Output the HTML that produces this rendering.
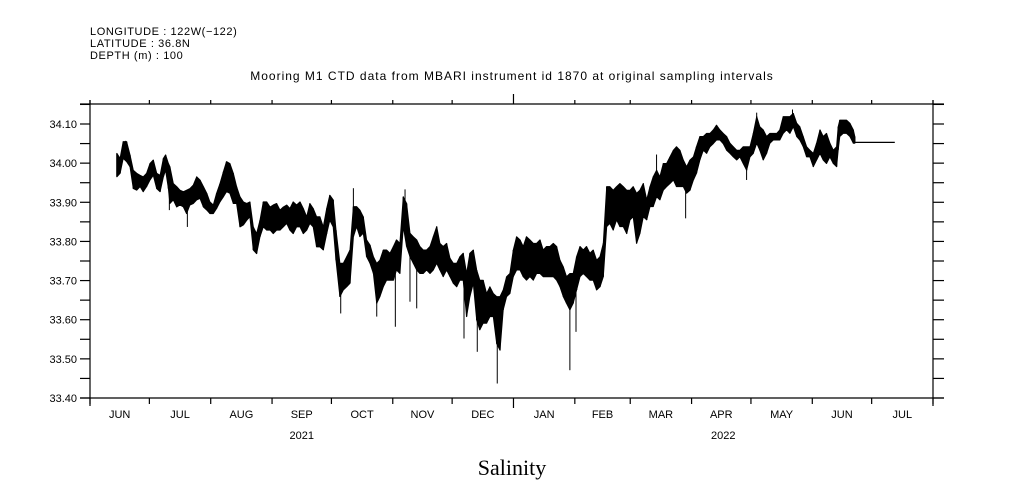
<!DOCTYPE html>
<html><head><meta charset="utf-8"><style>
body{margin:0;background:#fff;width:1009px;height:504px;overflow:hidden}
svg{display:block}
text{font-family:"Liberation Sans",sans-serif;font-size:11px;fill:#000}
</style></head><body>
<svg id="chart" width="1009" height="504" viewBox="0 0 1009 504" xmlns="http://www.w3.org/2000/svg">
<g style="letter-spacing:0.6px">
<text x="90" y="35">LONGITUDE : 122W(−122)</text>
<text x="90" y="47">LATITUDE : 36.8N</text>
<text x="90" y="59">DEPTH (m) : 100</text>
</g>
<text x="512" y="80" text-anchor="middle" style="font-size:12px;letter-spacing:1px">Mooring M1 CTD data from MBARI instrument id 1870 at original sampling intervals</text>
<text x="512" y="475" text-anchor="middle" style="font-family:'Liberation Serif',serif;font-size:22px">Salinity</text>
<g id="axes"></g>
<g id="marks"></g>
</svg>
<script>
const days=[13.6,15.2,16.8,18.5,20.2,21.9,23.6,25.3,26.9,28.6,30.3,32.0,33.7,35.4,37.1,38.2,39.6,40.4,42.1,43.8,45.5,47.2,48.8,50.5,52.2,53.9,55.6,57.3,59.0,60.6,62.3,64.0,65.7,67.4,69.0,70.7,72.4,74.1,75.8,77.5,79.2,80.8,82.5,84.2,85.9,87.6,89.3,91.0,92.6,94.3,96.0,97.7,99.4,101.0,102.7,104.4,106.1,107.8,109.5,111.1,112.8,114.5,116.2,117.9,119.6,121.2,122.9,
124.3,126.3,128.0,129.7,131.4,133.1,134.7,136.4,138.1,139.8,141.5,143.2,144.9,146.5,148.2,149.9,151.6,153.3,154.9,156.6,158.3,160.0,161.7,163.4,165.1,166.7,168.4,170.1,171.8,173.5,175.2,176.8,178.5,180.2,181.9,183.6,185.3,186.9,188.6,190.3,192.0,193.7,195.4,197.0,198.7,200.4,202.1,203.8,205.5,207.2,208.8,210.5,212.2,213.9,215.6,217.3,218.9,220.6,222.3,224.0,225.7,227.4,229.0,230.7,232.4,234.1,235.8,237.5,239.2,240.8,242.5,244.2,245.9,247.6,249.3,250.9,252.6,254.3,256.0,257.7,259.4,
261.1,262.7,264.4,266.1,267.8,269.5,271.2,272.9,274.5,276.2,277.9,279.6,281.3,283.0,284.6,286.3,288.0,289.7,291.4,293.1,294.8,296.4,298.1,299.8,301.5,303.2,304.9,306.5,308.2,309.9,311.6,313.3,315.0,316.6,318.3,320.0,321.7,323.4,325.1,326.8,328.4,330.1,331.8,333.5,335.2,336.9,338.5,340.2,341.9,343.6,345.3,347.0,348.6,350.3,352.0,353.7,355.4,357.1,358.7,360.4,362.1,363.8,365.5,367.2,368.9,370.5,372.2,373.9,375.6,377.3,378.1,378.9,380.6,382.3,384.0,385.7,386.5];
const hiVals=[34.025,34.012,34.055,34.055,34.021,33.982,33.974,33.969,33.965,33.974,33.999,34.008,33.974,33.969,34.012,34.021,33.999,33.991,33.948,33.940,33.931,33.927,33.931,33.935,33.944,33.965,33.957,33.940,33.923,33.901,33.893,33.923,33.948,33.978,34.004,33.999,33.974,33.940,33.914,33.901,33.897,33.901,33.837,33.820,33.854,33.901,33.901,33.888,33.893,33.897,33.880,33.888,33.893,33.884,33.901,33.893,33.901,33.884,33.863,33.897,33.884,33.863,33.863,33.837,33.884,33.918,33.906,
33.829,33.744,33.744,33.761,33.778,33.889,33.889,33.880,33.863,33.804,33.791,33.761,33.744,33.752,33.778,33.778,33.770,33.787,33.804,33.795,33.914,33.897,33.821,33.812,33.804,33.787,33.778,33.778,33.787,33.812,33.838,33.795,33.787,33.795,33.757,33.744,33.744,33.761,33.770,33.718,33.770,33.778,33.727,33.701,33.701,33.667,33.684,33.667,33.659,33.659,33.676,33.710,33.718,33.778,33.812,33.804,33.787,33.812,33.804,33.795,33.795,33.804,33.778,33.787,33.787,33.795,33.787,33.752,33.735,33.710,33.718,33.718,33.761,33.787,33.778,33.787,33.770,33.778,33.752,33.761,33.795,
33.940,33.940,33.931,33.940,33.948,33.940,33.931,33.931,33.940,33.923,33.931,33.948,33.906,33.940,33.965,33.982,33.965,33.999,33.999,34.016,34.033,34.042,34.033,34.008,33.991,34.008,34.016,34.042,34.068,34.068,34.076,34.076,34.085,34.097,34.085,34.076,34.068,34.051,34.042,34.033,34.033,34.042,34.042,34.042,34.076,34.119,34.093,34.085,34.068,34.076,34.076,34.076,34.085,34.119,34.119,34.119,34.127,34.102,34.093,34.068,34.042,34.033,34.025,34.051,34.085,34.068,34.076,34.051,34.033,34.042,34.093,34.110,34.110,34.110,34.102,34.085,34.068];
const loVals=[33.965,33.974,34.012,34.004,33.991,33.935,33.931,33.940,33.927,33.940,33.957,33.969,33.935,33.927,33.965,33.982,33.935,33.897,33.906,33.888,33.893,33.888,33.871,33.893,33.897,33.906,33.910,33.888,33.880,33.871,33.871,33.884,33.901,33.914,33.927,33.923,33.897,33.897,33.837,33.842,33.854,33.863,33.778,33.769,33.812,33.837,33.829,33.829,33.820,33.829,33.829,33.837,33.846,33.829,33.820,33.837,33.837,33.820,33.829,33.846,33.837,33.786,33.786,33.778,33.820,33.854,33.837,
33.752,33.659,33.676,33.684,33.693,33.812,33.838,33.812,33.821,33.761,33.744,33.718,33.642,33.659,33.684,33.701,33.701,33.701,33.727,33.718,33.838,33.787,33.761,33.744,33.727,33.718,33.718,33.727,33.718,33.727,33.744,33.727,33.710,33.727,33.710,33.693,33.684,33.701,33.701,33.608,33.659,33.693,33.599,33.574,33.591,33.591,33.608,33.608,33.539,33.522,33.625,33.659,33.667,33.710,33.727,33.727,33.710,33.701,33.710,33.701,33.718,33.718,33.710,33.710,33.710,33.710,33.701,33.684,33.659,33.642,33.625,33.642,33.676,33.710,33.718,33.710,33.701,33.701,33.676,33.684,33.710,
33.838,33.846,33.829,33.855,33.838,33.838,33.820,33.855,33.863,33.795,33.820,33.863,33.855,33.889,33.889,33.914,33.906,33.931,33.940,33.948,33.957,33.940,33.940,33.940,33.923,33.931,33.957,33.974,34.008,34.033,34.025,34.042,34.050,34.059,34.059,34.050,34.033,34.025,34.016,34.008,34.016,33.999,33.982,34.016,34.025,34.051,34.033,34.008,34.025,34.051,34.059,34.059,34.059,34.076,34.085,34.076,34.093,34.068,34.059,34.042,34.016,34.016,33.991,34.008,34.025,34.008,33.999,34.016,33.999,33.991,34.034,34.068,34.076,34.076,34.068,34.051,34.051];
const spikeDays=[18.0,40.1,49.2,126.7,133.1,144.9,154.3,159.2,161.7,165.1,189.0,195.7,205.8,242.5,245.6,286.3,301.0,331.8,336.9,355.0];
const spikeVals=[34.057,33.880,33.837,33.616,33.936,33.608,33.582,33.933,33.646,33.629,33.552,33.518,33.437,33.471,33.569,34.022,33.859,33.957,34.129,34.137];
const flatDays=[386.5,406.7];
const flatVals=[34.053,34.053];
const yTicks=[33.40,33.50,33.60,33.70,33.80,33.90,34.00,34.10];
const monthStarts=[0,30,61,92,122,153,183,214,245,273,304,334,365,395,426];
const monthLabels=['JUN','JUL','AUG','SEP','OCT','NOV','DEC','JAN','FEB','MAR','APR','MAY','JUN','JUL'];
const yearLabels=['2021','2022'];
const yearMid=[107,320];

const NS='http://www.w3.org/2000/svg';
const L=90,R=933,T=104,B=398;
const X=d=>L+d*(R-L)/426;
const Y=v=>398-(v-33.40)*(398-124)/0.70;
const axes=document.getElementById('axes'),marks=document.getElementById('marks');
function mk(tag,attrs,parent){const e=document.createElementNS(NS,tag);for(const k in attrs)e.setAttribute(k,attrs[k]);parent.appendChild(e);return e;}
function ln(x1,y1,x2,y2,p){return mk('line',{x1,y1,x2,y2,stroke:'#000','stroke-width':1.2},p);}

let e;
e=ln(80,T,944,T,axes);


e=ln(80,B,944,B,axes);


e=ln(L,T-4,L,B+8,axes);


e=ln(R,T-4,R,B+8,axes);



for(let v=33.40;v<=34.151;v+=0.05){
  const y=Y(v);
  e=ln(80,y,L,y,axes);
  
  
  e=ln(R,y,944,y,axes);
  
  
}
yTicks.forEach(v=>{
  const t=mk('text',{x:77,y:Y(v)+4,'text-anchor':'end'},axes);
  t.textContent=v.toFixed(2);
  
  
});
monthStarts.forEach((d,i)=>{
  const x=X(d);
  const big=(d===214);
  e=ln(x,B,x,B+(big?10:6),axes);
  
  
  e=ln(x,T,x,T-(big?10:4),axes);
  
  
  if(i<monthLabels.length){
    const t=mk('text',{x:(X(d)+X(monthStarts[i+1]))/2,y:418,'text-anchor':'middle'},axes);
    t.textContent=monthLabels[i];
    
    
  }
});
yearLabels.forEach((s,i)=>{
  const t=mk('text',{x:X(yearMid[i]),y:439,'text-anchor':'middle'},axes);
  t.textContent=s;
  
  
});

let pts=[];
for(let i=0;i<days.length;i++)pts.push(X(days[i]).toFixed(1)+','+Y(hiVals[i]).toFixed(1));
for(let i=days.length-1;i>=0;i--)pts.push(X(days[i]).toFixed(1)+','+Y(loVals[i]).toFixed(1));
e=mk('polygon',{points:pts.join(' '),fill:'#000',stroke:'#000','stroke-width':1,'stroke-linejoin':'round'},marks);


let d='';
for(let i=0;i<days.length;i++){const x=X(days[i]);d+='M'+x.toFixed(1)+','+Y(hiVals[i]).toFixed(1)+'V'+Y(loVals[i]).toFixed(1);}
e=mk('path',{d,stroke:'#000','stroke-width':1.3,fill:'none'},marks);


spikeDays.forEach((sd,i)=>{
  let k=0,best=1e9;
  days.forEach((dd,j)=>{if(Math.abs(dd-sd)<best){best=Math.abs(dd-sd);k=j;}});
  const mid=(hiVals[k]+loVals[k])/2;
  const s=ln(X(sd),Y(spikeVals[i]),X(sd),Y(mid),marks);
  s.setAttribute('stroke-width',1);
  
  
});
e=ln(X(flatDays[0]),Y(flatVals[0]),X(flatDays[1]),Y(flatVals[1]),marks);


</script>
</body></html>
